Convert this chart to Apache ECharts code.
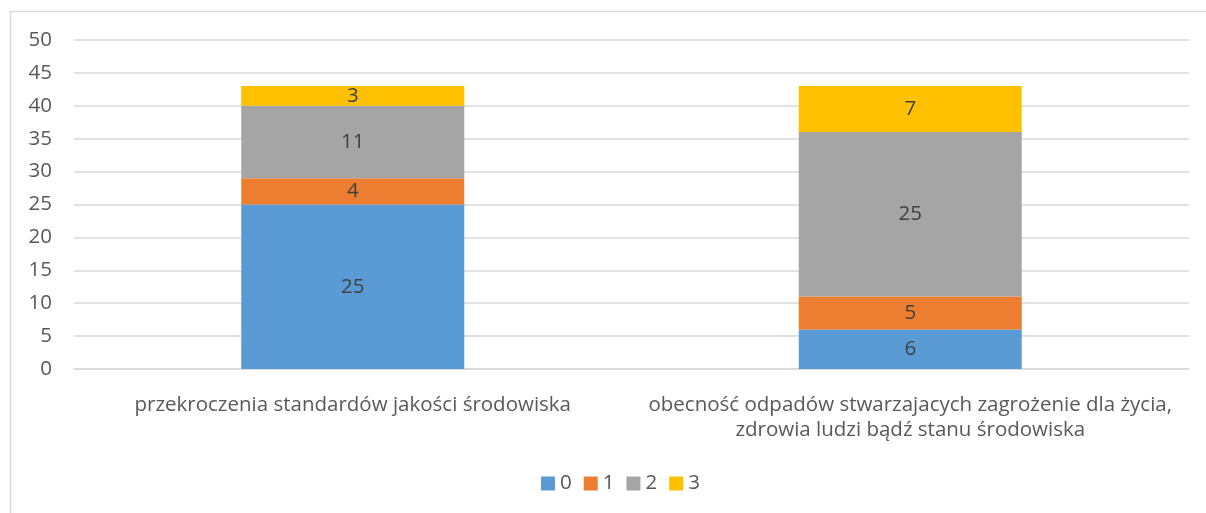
<!DOCTYPE html>
<html>
<head>
<meta charset="utf-8">
<script src="https://cdn.jsdelivr.net/npm/echarts@6/dist/echarts.min.js"></script>
<style>
html,body{margin:0;padding:0;background:#fff;}
#chart{width:1206px;height:513px;}
</style>
</head>
<body>
<div id="chart"></div>
<script>
const categories = [
  'przekroczenia standardów jakości środowiska',
  'obecność odpadów stwarzajacych zagrożenie dla życia,\nzdrowia ludzi bądź stanu środowiska'
];
const seriesNames = ['0', '1', '2', '3'];
const values0 = [25, 6];
const values1 = [4, 5];
const values2 = [11, 25];
const values3 = [3, 7];
const colors = ['#5B9BD5', '#ED7D31', '#A5A5A5', '#FFC000'];

const allValues = [values0, values1, values2, values3];
const FONT = 'Open Sans';
const FS = 20.5;

const chart = echarts.init(document.getElementById('chart'), null, {renderer: 'canvas'});
chart.setOption({
  animation: false,
  textStyle: {fontFamily: FONT},
  graphic: [{
    type: 'rect',
    shape: {x: 10.5, y: 11.5, width: 1400, height: 800},
    style: {fill: null, stroke: '#D9D9D9', lineWidth: 1.5},
    silent: true,
    z: -1
  }],
  grid: {left: 74, right: 17, top: 40, bottom: 144, containLabel: false},
  legend: {
    left: 536,
    top: 468,
    itemWidth: 14,
    itemHeight: 14,
    itemGap: 12,
    icon: 'rect',
    textStyle: {color: '#595959', fontSize: FS, fontFamily: FONT},
    data: seriesNames
  },
  xAxis: {
    type: 'category',
    data: categories,
    axisLine: {lineStyle: {color: '#D9D9D9', width: 1.5}},
    axisTick: {show: false},
    axisLabel: {color: '#595959', fontSize: FS, lineHeight: 25, margin: 24, interval: 0}
  },
  yAxis: {
    type: 'value',
    min: 0,
    max: 50,
    interval: 5,
    axisLine: {show: false},
    axisTick: {show: false},
    splitLine: {lineStyle: {color: '#D9D9D9', width: 1.5}},
    axisLabel: {color: '#595959', fontSize: FS, margin: 22}
  },
  series: seriesNames.map((name, i) => ({
    name: name,
    type: 'bar',
    stack: 'total',
    barWidth: '40%',
    data: allValues[i],
    itemStyle: {color: colors[i]},
    label: {show: true, position: 'inside', color: '#404040', fontSize: FS, fontFamily: FONT}
  }))
});
</script>
</body>
</html>
